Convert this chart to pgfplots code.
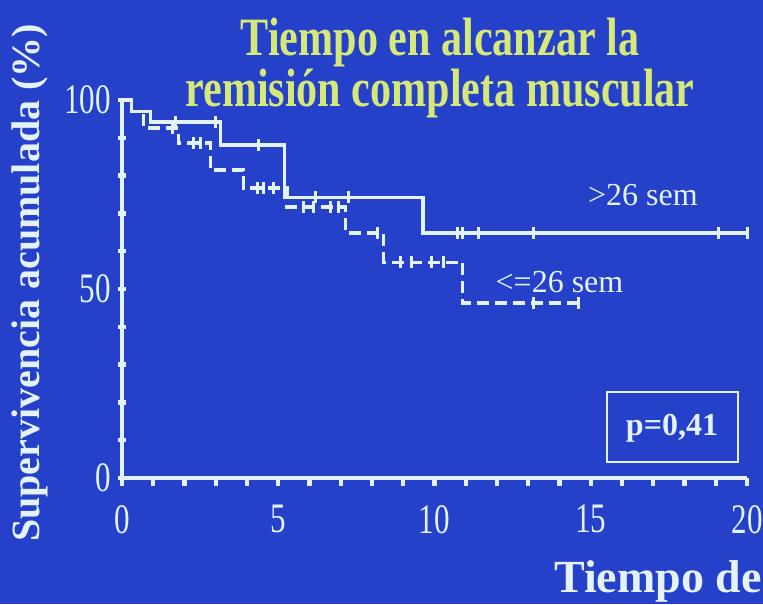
\documentclass[border=0pt]{standalone}
\usepackage{fontspec}
\setmainfont{Liberation Serif}
\newfontfamily\condfont{Liberation Serif}[FakeStretch=0.74]
\newfontfamily\titlefont{Liberation Serif}[FakeStretch=0.78]
\usepackage{pgfplots}
\pgfplotsset{compat=1.18}
\definecolor{bgblue}{RGB}{37,64,201}
\definecolor{ttl}{RGB}{214,232,120}
\definecolor{lw}{RGB}{228,242,252}
\begin{document}
\begin{tikzpicture}
\fill[bgblue] (0,0) rectangle (381.5pt,302pt);
\begin{axis}[
  at={(61pt,63pt)}, anchor=south west,
  scale only axis, width=312.5pt, height=189pt,
  xmin=0, xmax=20, ymin=0, ymax=100,
  clip=false,
  axis lines=left,
  axis line style={-, lw, line width=1.6pt},
  xtick={0,5,10,15,20},
  minor xtick={1,2,3,4,6,7,8,9,11,12,13,14,16,17,18,19},
  ytick={0,50,100},
  minor ytick={10,20,30,40,60,70,80,90},
  x tick style={lw, line width=2.2pt},
  y tick style={lw, line width=2.2pt},
  xtick align=outside,
  ytick align=center,
  major tick length=4pt, minor tick length=4pt,
  /pgf/number format/assume math mode=true,
  ticklabel style={font=\condfont\fontsize{21}{21}\selectfont, text=lw},
  xticklabel style={yshift=-6pt},
  yticklabel style={xshift=0pt},
]
\addplot[const plot, lw, line width=1.6pt] coordinates {
 (0,100) (0.3,97) (0.9,94.2) (3.15,88.1) (5.2,74.3) (9.63,64.8) (20,64.8)};
\addplot[const plot, lw, line width=1.6pt, dash pattern=on 6pt off 3pt] coordinates {
 (0,100) (0.3,97) (0.7,92.6) (1.8,88.6) (2.83,81.5) (3.9,76.7) (5.28,71.7) (7.16,64.8) (8.38,57.1) (10.9,46.3) (14.6,46.3)};
\addplot[only marks, mark=|, mark size=3pt, lw, line width=1.5pt] coordinates {
 (1.7,94.2) (3.0,94.2) (4.37,88.1) (6.2,74.3) (7.26,74.3) (10.75,64.8) (10.9,64.8) (11.4,64.8) (13.16,64.8) (19.1,64.8) (20,64.8)};
\addplot[only marks, mark=|, mark size=3pt, lw, line width=1.5pt] coordinates {
 (1.6,92.6) (2.28,88.6) (2.5,88.6) (4.33,76.7) (4.53,76.7) (4.85,76.7) (5.81,71.7) (6.13,71.7) (6.68,71.7) (6.93,71.7) (8.19,64.8) (8.92,57.1) (9.25,57.1) (9.89,57.1) (10.3,57.1) (13.16,46.3) (14.6,46.3)};
\node[anchor=base, text=lw, font=\fontsize{16}{16}\selectfont] at (axis cs:16.67,72.2) {>26 sem};
\node[anchor=base, text=lw, font=\fontsize{16}{16}\selectfont] at (axis cs:14.0,49.2) {<=26 sem};
\draw[lw, line width=1.2pt] (axis cs:15.52,4.23) rectangle (axis cs:19.71,22.75);
\node[text=lw, font=\bfseries\fontsize{16}{16}\selectfont] at (axis cs:17.6,13.2) {p=0,41};
\end{axis}
\node[rotate=90, text=lw, font=\bfseries\fontsize{20}{20}\selectfont] at (15pt,160.5pt) {Supervivencia acumulada (\%)};
\node[anchor=north, align=center, inner sep=0pt, text=ttl, font=\titlefont\bfseries\fontsize{27}{20.5}\selectfont] at (220pt,293pt) {Tiempo en alcanzar la\\remisión completa muscular};
\node[anchor=base east, inner sep=0pt, text=lw, font=\bfseries\fontsize{23}{23}\selectfont] at (381pt,6pt) {Tiempo de};
\pgfresetboundingbox
\useasboundingbox (0,0) rectangle (381.5pt,302pt);
\end{tikzpicture}
\end{document}
